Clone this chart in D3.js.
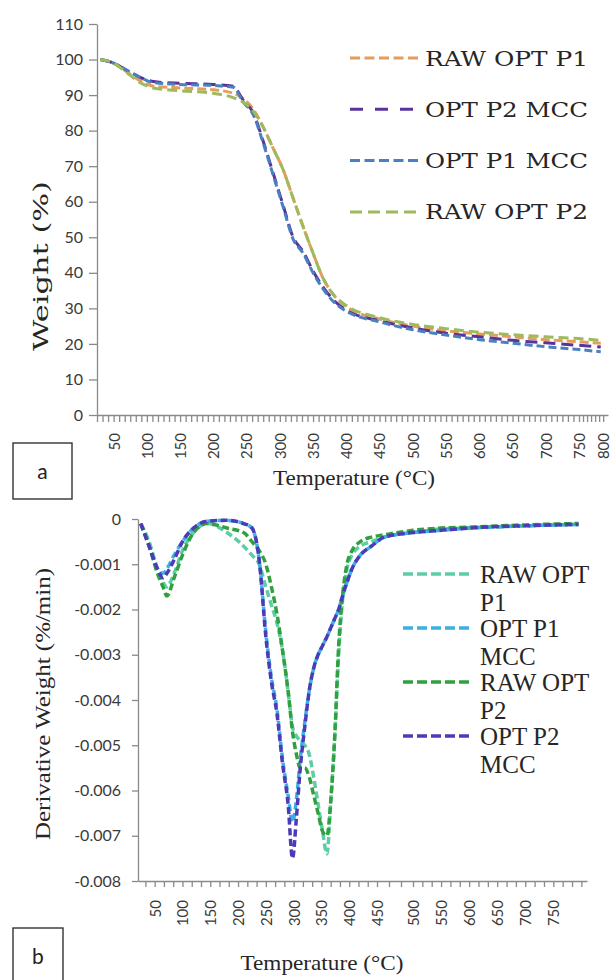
<!DOCTYPE html>
<html>
<head>
<meta charset="utf-8">
<script src="https://cdn.jsdelivr.net/npm/d3@7"></script>
<style>
  body { margin: 0; background: #fff; }
  .tick-label { font-family: Lato, "Liberation Sans", sans-serif; fill: #3a3a3a; }
  .serif { font-family: "Liberation Serif", "DejaVu Serif", serif; fill: #262626; }
  .wide-serif { font-family: "DejaVu Serif", "Liberation Serif", serif; fill: #262626; }
</style>
</head>
<body>
<svg id="chart" width="614" height="980"></svg>
<script>
// ---- panel a: TGA weight (%) ----
const tgaTemps   = [30, 50, 70, 90, 110, 150, 200, 230, 245, 260, 275, 290, 305, 320, 335, 350, 365, 380, 400, 450, 500, 550, 600, 650, 700, 750, 795];
const tgaRawP1   = [100, 99, 96.5, 94, 92.5, 92, 91.5, 90.5, 89, 86, 81, 75, 69, 61, 53, 45.5, 38.5, 34, 30.5, 27, 25, 23.7, 22.8, 22, 21.2, 20.6, 20.2];
const tgaP2Mcc   = [100, 99, 97, 95, 93.8, 93.3, 93, 92.5, 88.5, 85, 77, 68, 59, 50, 46, 40.5, 36, 32.5, 29.5, 26.5, 24.5, 23, 22, 21, 20.3, 19.6, 19.1];
const tgaP1Mcc   = [100, 99, 97, 95, 93.5, 93, 92.7, 92.2, 88, 84.5, 76.5, 67.5, 58.5, 49.5, 45.5, 40, 35.5, 32, 29.2, 26.2, 24, 22.5, 21.2, 20.2, 19.2, 18.4, 17.8];
const tgaRawP2   = [100, 99, 96.3, 93.5, 92, 91.2, 90.5, 89.3, 88, 85.5, 81, 75, 69, 61, 53, 45.5, 38.5, 34, 30.8, 27.4, 25.5, 24.3, 23.3, 22.6, 22, 21.5, 21];
const tgaNames   = ['RAW OPT P1', 'OPT P2 MCC', 'OPT P1 MCC', 'RAW OPT P2'];
const tgaYTicks  = [0, 10, 20, 30, 40, 50, 60, 70, 80, 90, 100, 110];
const tgaXLabels = [50, 100, 150, 200, 250, 300, 350, 400, 450, 500, 550, 600, 650, 700, 750, 800];

// ---- panel b: DTG derivative weight (%/min) ----
const dtgTemps  = [25, 40, 55, 65, 72, 85, 100, 120, 145, 180, 210, 225, 238, 250, 260, 270, 280, 290, 298, 305, 312, 320, 328, 336, 344, 352, 360, 367, 374, 381, 388, 396, 405, 420, 440, 460, 500, 550, 600, 700, 795];
const dtgRawP1  = [-0.0001, -0.0005, -0.0011, -0.0014, -0.0015, -0.0012, -0.0007, -0.0003, -0.0001, -0.0003, -0.0006, -0.0008, -0.001, -0.0015, -0.0019, -0.0023, -0.0029, -0.0038, -0.0046, -0.0048, -0.0049, -0.005, -0.0052, -0.0057, -0.0063, -0.0069, -0.0074, -0.0062, -0.0048, -0.003, -0.0018, -0.0011, -0.0008, -0.0006, -0.0005, -0.0004, -0.0003, -0.00022, -0.0002, -0.00015, -0.00012];
const dtgP1Mcc  = [-0.0001, -0.0006, -0.0011, -0.0012, -0.0011, -0.0008, -0.0005, -0.0002, -0.00005, -0.00003, -0.0001, -0.0002, -0.0009, -0.0025, -0.0035, -0.0042, -0.0053, -0.0061, -0.0067, -0.0062, -0.0053, -0.0045, -0.0038, -0.0033, -0.003, -0.0028, -0.0026, -0.0024, -0.0022, -0.002, -0.0017, -0.0014, -0.0011, -0.0008, -0.0006, -0.0004, -0.0003, -0.00025, -0.0002, -0.00015, -0.00012];
const dtgRawP2  = [-0.0001, -0.0006, -0.0012, -0.0015, -0.0017, -0.0013, -0.0008, -0.0003, -0.0001, -0.0002, -0.0003, -0.0005, -0.0007, -0.001, -0.0015, -0.0021, -0.0029, -0.0038, -0.0047, -0.0052, -0.0055, -0.0055, -0.0057, -0.0061, -0.0065, -0.0069, -0.007, -0.0062, -0.0048, -0.0028, -0.0017, -0.001, -0.0007, -0.0005, -0.0004, -0.00035, -0.00025, -0.0002, -0.00018, -0.00013, -0.0001];
const dtgP2Mcc  = [-0.0001, -0.0006, -0.0011, -0.0013, -0.0012, -0.0009, -0.0005, -0.0002, -0.00005, -0.00003, -0.0001, -0.0002, -0.0009, -0.0026, -0.0036, -0.0043, -0.0054, -0.0063, -0.0075, -0.0066, -0.0055, -0.0046, -0.0038, -0.0033, -0.003, -0.0028, -0.0026, -0.0024, -0.0022, -0.002, -0.0017, -0.0014, -0.0011, -0.0008, -0.0006, -0.0004, -0.0003, -0.00025, -0.0002, -0.00015, -0.00012];
const dtgNames  = [['RAW OPT', 'P1'], ['OPT P1', 'MCC'], ['RAW OPT', 'P2'], ['OPT P2', 'MCC']];
const dtgYTicks = [0, -0.001, -0.002, -0.003, -0.004, -0.005, -0.006, -0.007, -0.008];
const dtgXLabels = [50, 100, 150, 200, 250, 300, 350, 400, 450, 500, 550, 600, 650, 700, 750];


class ThermoPanel {

  constructor(_config, _data) {
    this.config = _config;
    this.data = _data;
    this.initVis();
  }

  initVis() {
    let vis = this;
    const c = vis.config;

    vis.g = d3.select(c.parentElement).append('g');

    // Excel category axis is not evenly spaced, so the x scale is piecewise
    vis.xScale = d3.scaleLinear().domain(c.xDomain).range(c.xRange);
    vis.yScale = d3.scaleLinear().domain(c.yDomain).range(c.yRange);

    const axisY = vis.yScale(c.yDomain[0]);

    // ---- X AXIS: minor tick marks + domain line ----
    vis.g.append('g')
      .attr('class', 'axis x-minor')
      .attr('transform', `translate(0, ${axisY})`)
      .call(d3.axisBottom(vis.xScale).tickValues(c.xMinor).tickSize(c.xTickSize).tickSizeOuter(0).tickFormat(''))
      .call(g => g.selectAll('path, line').attr('stroke', '#8a8a8a').attr('stroke-width', 1.3));

    // rotated labels
    vis.g.append('g')
      .attr('class', 'axis x-labels')
      .attr('transform', `translate(0, ${axisY})`)
      .call(d3.axisBottom(vis.xScale).tickValues(c.xLabels).tickSize(0))
      .call(g => g.select('.domain').remove())
      .selectAll('text')
        .attr('class', 'tick-label')
        .attr('font-size', c.xFontSize)
        .attr('transform', 'rotate(-90)')
        .attr('text-anchor', 'end')
        .attr('x', -c.xLabelGap)
        .attr('y', 0)
        .attr('dy', '0.36em');

    // ---- Y AXIS ----
    vis.g.append('g')
      .attr('class', 'axis y-axis')
      .attr('transform', `translate(${c.xRange[0]}, 0)`)
      .call(d3.axisLeft(vis.yScale).tickValues(c.yTicks).tickSize(c.yTickSize).tickSizeOuter(0)
        .tickPadding(c.yPadding).tickFormat(c.yFormat))
      .call(g => g.selectAll('path, line').attr('stroke', '#8a8a8a').attr('stroke-width', 1.3))
      .selectAll('text')
        .attr('class', 'tick-label')
        .attr('font-size', 16);

    // ---- AXIS TITLES ----
    vis.g.append('text')
      .attr('class', c.yTitle.cls)
      .attr('transform', `translate(${c.yTitle.x}, ${c.yTitle.y}) rotate(-90)`)
      .attr('text-anchor', 'middle')
      .attr('font-size', c.yTitle.size)
      .attr('textLength', c.yTitle.len)
      .attr('lengthAdjust', 'spacingAndGlyphs')
      .text(c.yTitle.text);

    vis.g.append('text')
      .attr('class', 'serif')
      .attr('x', c.xTitle.x)
      .attr('y', c.xTitle.y)
      .attr('text-anchor', 'middle')
      .attr('font-size', c.xTitle.size)
      .attr('textLength', c.xTitle.len)
      .attr('lengthAdjust', 'spacingAndGlyphs')
      .text('Temperature (°C)');

    // panel letter box
    vis.g.append('rect')
      .attr('x', c.box.x).attr('y', c.box.y)
      .attr('width', c.box.w).attr('height', c.box.h)
      .attr('fill', '#fff').attr('stroke', '#333').attr('stroke-width', 1.4);
    vis.g.append('text')
      .attr('x', c.box.x + c.box.w / 2)
      .attr('y', c.box.y + c.box.ty)
      .attr('text-anchor', 'middle')
      .attr('font-family', 'Lato, "Liberation Sans", sans-serif')
      .attr('font-size', 21)
      .attr('fill', '#222')
      .text(c.box.label);

    vis.updateVis();
  }

  updateVis() {
    let vis = this;
    const c = vis.config;

    const line = d3.line()
      .x(d => vis.xScale(d[0]))
      .y(d => vis.yScale(d[1]))
      .curve(d3.curveMonotoneX);

    vis.g.selectAll('.series')
      .data(vis.data)
      .join('path')
      .attr('class', 'series')
      .attr('d', s => line(c.temps.map((t, i) => [t, s.values[i]])))
      .attr('fill', 'none')
      .attr('stroke', s => s.color)
      .attr('stroke-width', c.lineWidth)
      .attr('stroke-dasharray', s => s.dash);

    // ---- LEGEND ----
    const legend = vis.g.selectAll('.legend-item')
      .data(vis.data)
      .join('g')
      .attr('class', 'legend-item')
      .attr('transform', (d, i) => `translate(0, ${c.legend.y0 + i * c.legend.step})`);

    legend.append('line')
      .attr('x1', c.legend.x1).attr('x2', c.legend.x2)
      .attr('stroke', d => d.color)
      .attr('stroke-width', c.lineWidth)
      .attr('stroke-dasharray', d => d.legendDash);

    const label = legend.append('text')
      .attr('class', c.legend.cls)
      .attr('x', c.legend.tx)
      .attr('y', c.legend.dy)
      .attr('font-size', c.legend.size);

    label.selectAll('tspan')
      .data(d => [].concat(d.name))
      .join('tspan')
      .attr('x', c.legend.tx)
      .attr('dy', (d, i) => i === 0 ? 0 : c.legend.lineGap)
      .attr('textLength', c.legend.len || null)
      .attr('lengthAdjust', 'spacingAndGlyphs')
      .text(d => d);
  }
}

const svg = '#chart';

// panel a
new ThermoPanel({
  parentElement: svg,
  temps: tgaTemps,
  xDomain: [25, 750, 810], xRange: [97, 579, 608],
  yDomain: [0, 110], yRange: [415, 24],
  xMinor: d3.range(0, 94).map(i => 25 + i * 50 / 6),
  xLabels: tgaXLabels, xTickSize: 7, xLabelGap: 18, xFontSize: 15,
  yTicks: tgaYTicks, yTickSize: 8, yPadding: 6, yFormat: d3.format('d'),
  yTitle: { text: 'Weight (%)', x: 48, y: 266, size: 21, len: 170, cls: 'wide-serif' },
  xTitle: { x: 354, y: 485, size: 22, len: 162 },
  box: { x: 13, y: 443, w: 59, h: 56, ty: 36, label: 'a' },
  lineWidth: 3,
  legend: { x1: 350, x2: 420, tx: 425, y0: 58, step: 51.3, dy: 7.5, size: 20, len: 163, lineGap: 0, cls: 'wide-serif' }
}, [
  { name: tgaNames[0], values: tgaRawP1, color: '#e69c5a', dash: '9,4', legendDash: '10,4.5' },
  { name: tgaNames[1], values: tgaP2Mcc, color: '#58349a', dash: '12,6', legendDash: '13,12' },
  { name: tgaNames[2], values: tgaP1Mcc, color: '#4a80bf', dash: '8,4', legendDash: '10,4.5' },
  { name: tgaNames[3], values: tgaRawP2, color: '#9dbb5c', dash: '10,5', legendDash: '12,6' }
]);

// panel b
new ThermoPanel({
  parentElement: svg,
  temps: dtgTemps,
  xDomain: [20, 450, 500, 810], xRange: [138, 377, 413, 587],
  yDomain: [-0.008, 0], yRange: [881, 519],
  xMinor: d3.range(-1, 46).map(i => 50 + i * 50 / 3),
  xLabels: dtgXLabels, xTickSize: 6, xLabelGap: 19, xFontSize: 15,
  yTicks: dtgYTicks, yTickSize: 6, yPadding: 11, yFormat: d => d === 0 ? '0' : d.toFixed(3),
  yTitle: { text: 'Derivative Weight (%/min)', x: 50, y: 704, size: 22, len: 272, cls: 'serif' },
  xTitle: { x: 322, y: 970, size: 22, len: 163 },
  box: { x: 13, y: 928, w: 50, h: 60, ty: 36, label: 'b' },
  lineWidth: 3.5,
  legend: { x1: 403, x2: 472, tx: 480, y0: 574, step: 54, dy: 8.5, size: 25, len: null, lineGap: 28, cls: 'serif' }
}, [
  { name: dtgNames[0], values: dtgRawP1, color: '#5ccda4', dash: '7,3.5', legendDash: '10,4' },
  { name: dtgNames[1], values: dtgP1Mcc, color: '#3cb0e2', dash: '7,3.5', legendDash: '10,4' },
  { name: dtgNames[2], values: dtgRawP2, color: '#31a03e', dash: '7,3.5', legendDash: '10,4' },
  { name: dtgNames[3], values: dtgP2Mcc, color: '#4b3bb8', dash: '7,3.5', legendDash: '10,4' }
]);
</script>
</body>
</html>
